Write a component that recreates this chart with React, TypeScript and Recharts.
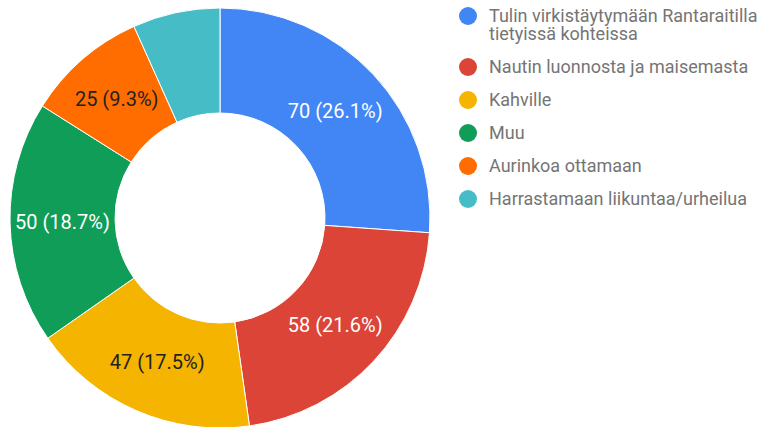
import React from "react";
import { PieChart, Pie, Cell, Legend } from "recharts";

const categories = [
  "Tulin virkistäytymään Rantaraitilla tietyissä kohteissa",
  "Nautin luonnosta ja maisemasta",
  "Kahville",
  "Muu",
  "Aurinkoa ottamaan",
  "Harrastamaan liikuntaa/urheilua",
];
const values = [70, 58, 47, 50, 25, 18];
const colors = ["#4285F4", "#DB4437", "#F4B400", "#0F9D58", "#FF6D01", "#46BDC6"];
const labelColors = ["#ffffff", "#ffffff", "#222222", "#ffffff", "#222222", "#ffffff"];

const data = categories.map((name, i) => ({ name, value: values[i] }));
const FONT = "Roboto, 'Noto Sans', sans-serif";
const RADIAN = Math.PI / 180;

const renderLabel = (props: any) => {
  const { cx, cy, midAngle, innerRadius, outerRadius, percent, value, index } = props;
  if (percent < 0.08) return null;
  const r = (innerRadius + outerRadius) / 2;
  const x = cx + r * Math.cos(-midAngle * RADIAN);
  const y = cy + r * Math.sin(-midAngle * RADIAN);
  return (
    <text
      x={x}
      y={y}
      fill={labelColors[index]}
      textAnchor="middle"
      dominantBaseline="central"
      fontFamily={FONT}
      fontSize={20}
    >
      {`${value} (${(percent * 100).toFixed(1)}%)`}
    </text>
  );
};

const renderLegend = () => {
  return (
    <div style={{ fontFamily: FONT, fontSize: 18, color: "#757575" }}>
      {data.map((entry, i) => (
        <div
          key={entry.name}
          style={{ display: "flex", alignItems: "flex-start", marginBottom: 15 }}
        >
          <div
            style={{
              width: 18,
              height: 18,
              borderRadius: 9,
              background: colors[i],
              flex: "0 0 18px",
            }}
          />
          <div style={{ marginLeft: 12, lineHeight: "18px", width: 280 }}>{entry.name}</div>
        </div>
      ))}
    </div>
  );
};

export default function App() {
  return (
    <div style={{ position: "absolute", left: 0, top: 0, width: 759, height: 427, background: "#fff" }}>
      <PieChart width={759} height={427} margin={{ top: 0, right: 0, bottom: 0, left: 0 }}>
        <Pie
          data={data}
          dataKey="value"
          nameKey="name"
          cx={220}
          cy={218}
          innerRadius={105}
          outerRadius={210}
          startAngle={90}
          endAngle={-270}
          stroke="#ffffff"
          strokeWidth={1}
          label={renderLabel}
          labelLine={false}
          isAnimationActive={false}
        >
          {data.map((d, i) => (
            <Cell key={d.name} fill={colors[i]} />
          ))}
        </Pie>
        <Legend
          layout="vertical"
          verticalAlign="top"
          align="right"
          content={renderLegend}
          wrapperStyle={{ left: 459, top: 7, width: 300 }}
        />
      </PieChart>
    </div>
  );
}
